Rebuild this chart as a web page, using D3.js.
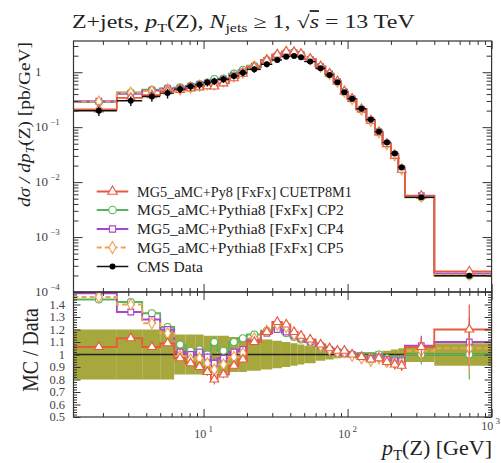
<!DOCTYPE html>
<html><head><meta charset="utf-8">
<script src="https://cdn.jsdelivr.net/npm/d3@7"></script>
<style>
body{margin:0;background:#fff}
svg{display:block}
text{font-family:"Liberation Serif","DejaVu Serif",serif}
</style>
</head><body>
<svg id="c" width="501" height="463"></svg>
<script>
// ---------------- data ----------------
const binEdges = [1.25,2.5,3.75,5,6.25,7.5,8.75,10,11.25,12.5,15,17.5,20,25,30,35,40,45,50,60,70,80,90,100,115,135,155,175,200,225,250,400,1000];
const dataValues = [0.199,0.302,0.361,0.417,0.492,0.548,0.589,0.648,0.687,0.747,0.857,0.98,1.13,1.40,1.67,1.92,1.97,1.87,1.56,1.18,0.894,0.659,0.434,0.328,0.216,0.137,0.0829,0.0524,0.0331,0.0185,0.00528,0.000198];
const dataRelErr = [0.20,0.20,0.20,0.20,0.16,0.16,0.16,0.15,0.15,0.15,0.14,0.14,0.13,0.12,0.11,0.10,0.09,0.08,0.07,0.05,0.04,0.03,0.025,0.02,0.02,0.02,0.025,0.03,0.04,0.05,0.06,0.09];
const ratioCUETP8M1 = [1.06,1.13,1.06,1.09,0.97,0.93,0.90,0.86,0.80,0.84,0.91,0.96,1.10,1.18,1.26,1.24,1.18,1.15,1.12,1.08,1.05,1.03,1.03,1.00,0.98,0.96,0.97,0.94,0.92,0.91,1.06,1.20];
const ratioCP2 = [1.44,1.42,1.33,1.22,1.08,1.03,1.04,1.00,1.10,1.03,1.10,1.13,1.16,1.19,1.21,1.17,1.14,1.12,1.10,1.07,1.04,1.02,1.02,1.00,0.99,0.98,1.00,0.97,0.96,0.96,1.00,1.00];
const ratioCP4 = [1.49,1.34,1.28,1.20,1.02,1.00,1.02,0.98,0.93,0.97,1.02,1.04,1.12,1.17,1.20,1.18,1.15,1.13,1.10,1.07,1.04,1.02,1.01,1.00,0.98,0.97,0.98,0.96,0.95,0.95,1.07,1.10];
const ratioCP5 = [1.46,1.40,1.25,1.17,0.99,0.96,0.97,0.93,0.88,0.92,0.98,1.01,1.13,1.19,1.24,1.22,1.16,1.14,1.11,1.07,1.04,1.02,1.02,0.99,0.97,0.95,0.97,0.94,0.93,0.92,1.03,1.05];
const mcRelErr = [0.02,0.02,0.02,0.02,0.02,0.02,0.02,0.03,0.04,0.03,0.02,0.02,0.02,0.02,0.02,0.02,0.02,0.02,0.02,0.02,0.02,0.02,0.02,0.02,0.02,0.03,0.03,0.03,0.04,0.04,0.08,0.20];
const seriesNames = ["MG5_aMC+Py8 [FxFx] CUETP8M1","MG5_aMC+Pythia8 [FxFx] CP2","MG5_aMC+Pythia8 [FxFx] CP4","MG5_aMC+Pythia8 [FxFx] CP5"];
const dataName = "CMS Data";
const upperTickValues = [1,0.1,0.01,0.001,0.0001];
const upperTickExp = ["","−1","−2","−3","−4"];
const ratioTickValues = [0.5,0.6,0.7,0.8,0.9,1,1.1,1.2,1.3,1.4];
const ratioTickLabels = ["0.5","0.6","0.7","0.8","0.9","1","1.1","1.2","1.3","1.4"];
const xTickValues = [10,100,1000];
const xTickExp = ["1","2","3"];

// ---------------- layout ----------------
const L=73.5, R=491.6, T=41, M=292, B=417;
const x = d3.scaleLog().domain([1.25,1000]).range([L,R]);
const yU = d3.scaleLog().domain([1e-4,3.7]).range([M,T]);
const yR = d3.scaleLinear().domain([0.5,1.5]).range([B,M]);

const svg = d3.select("#c");
const defs = svg.append("defs");
defs.append("clipPath").attr("id","cu").append("rect").attr("x",L).attr("y",T).attr("width",R-L).attr("height",M-T);
defs.append("clipPath").attr("id","cr").append("rect").attr("x",L).attr("y",M).attr("width",R-L).attr("height",B-M);

const nb = binEdges.length-1;
const bins = d3.range(nb).map(i=>({i, lo:binEdges[i], hi:binEdges[i+1], c:(binEdges[i]+binEdges[i+1])/2}));

const series = [
  {name:seriesNames[0], ratio:ratioCUETP8M1, color:"#e65b3d", sym:d3.symbolTriangle, size:34, dash:null},
  {name:seriesNames[1], ratio:ratioCP2, color:"#5cb35c", sym:d3.symbolCircle, size:38, dash:null},
  {name:seriesNames[2], ratio:ratioCP4, color:"#a847c8", sym:d3.symbolSquare, size:32, dash:null},
  {name:seriesNames[3], ratio:ratioCP5, color:"#f2a24e", sym:d3.symbolDiamond, size:36, dash:"5,3"}
];
const drawOrder = [1,2,3,0];

const stepLine = (vals, ys) => d3.line()(bins.flatMap(b=>[[x(b.lo), ys(vals[b.i])],[x(b.hi), ys(vals[b.i])]]));

// ---------------- lower panel ----------------
const gR = svg.append("g").attr("clip-path","url(#cr)");
gR.selectAll("rect.band").data(bins).join("rect").attr("class","band")
  .attr("x",b=>x(b.lo)).attr("width",b=>x(b.hi)-x(b.lo))
  .attr("y",b=>yR(1+dataRelErr[b.i])).attr("height",b=>yR(1-dataRelErr[b.i])-yR(1+dataRelErr[b.i]))
  .attr("fill","#a6a83e");
gR.append("line").attr("x1",L).attr("x2",R).attr("y1",yR(1)).attr("y2",yR(1)).attr("stroke","#222").attr("stroke-width",1.4);
drawOrder.forEach(k=>{
  const s=series[k];
  gR.append("path").attr("d",stepLine(s.ratio,yR)).attr("fill","none").attr("stroke",s.color).attr("stroke-width",1.8).attr("stroke-dasharray",s.dash);
});
drawOrder.forEach(k=>{
  const s=series[k];
  gR.selectAll(null).data(bins).join("line")
    .attr("x1",b=>x(b.c)).attr("x2",b=>x(b.c))
    .attr("y1",b=>yR(s.ratio[b.i]+mcRelErr[b.i])).attr("y2",b=>yR(s.ratio[b.i]-mcRelErr[b.i]))
    .attr("stroke",s.color).attr("stroke-width",1.2);
  gR.selectAll(null).data(bins).join("path")
    .attr("d",d3.symbol().type(s.sym).size(s.size))
    .attr("transform",b=>`translate(${x(b.c)},${yR(s.ratio[b.i])})`)
    .attr("fill","#fff").attr("stroke",s.color).attr("stroke-width",1.1);
});

// ---------------- upper panel ----------------
const gU = svg.append("g").attr("clip-path","url(#cu)");
drawOrder.forEach(k=>{
  const s=series[k];
  const vals = dataValues.map((v,i)=>v*s.ratio[i]);
  gU.append("path").attr("d",stepLine(vals,yU)).attr("fill","none").attr("stroke",s.color).attr("stroke-width",1.8).attr("stroke-dasharray",s.dash);
});
drawOrder.forEach(k=>{
  const s=series[k];
  gU.selectAll(null).data(bins).join("path")
    .attr("d",d3.symbol().type(s.sym).size(s.size))
    .attr("transform",b=>`translate(${x(b.c)},${yU(dataValues[b.i]*s.ratio[b.i])})`)
    .attr("fill","#fff").attr("stroke",s.color).attr("stroke-width",1.1);
});
gU.selectAll("line.dx").data(bins).join("line").attr("class","dx")
  .attr("x1",b=>x(b.lo)).attr("x2",b=>x(b.hi)).attr("y1",b=>yU(dataValues[b.i])).attr("y2",b=>yU(dataValues[b.i]))
  .attr("stroke","#111").attr("stroke-width",1.4);
gU.selectAll("line.dy").data(bins).join("line").attr("class","dy")
  .attr("x1",b=>x(b.c)).attr("x2",b=>x(b.c))
  .attr("y1",b=>yU(dataValues[b.i]*(1+dataRelErr[b.i]))).attr("y2",b=>yU(dataValues[b.i]*(1-dataRelErr[b.i])))
  .attr("stroke","#111").attr("stroke-width",1.4);
gU.selectAll("circle.pt").data(bins).join("circle").attr("class","pt")
  .attr("cx",b=>x(b.c)).attr("cy",b=>yU(dataValues[b.i])).attr("r",3).attr("fill","#000");

// ---------------- axes / ticks ----------------
const tickCol="#333";
const minorX=[]; [1,10,100].forEach(d=>{for(let k=2;k<=9;k++){const v=k*d; if(v>=1.25&&v<=1000) minorX.push(v);}});
function xTicks(y, dir){
  [[xTickValues,8],[minorX,4]].forEach(([vals,len])=>{
    const ax = (dir>0? d3.axisTop(x):d3.axisBottom(x)).tickValues(vals).tickSize(-len).tickFormat("");
    const g=svg.append("g").attr("transform",`translate(0,${y})`).call(ax);
    g.select(".domain").remove(); g.selectAll("line").attr("stroke",tickCol);
  });
}
xTicks(T,1); xTicks(M,-1); xTicks(M,1); xTicks(B,-1);

const minorYU=[]; [0.0001,0.001,0.01,0.1,1].forEach(d=>{for(let k=2;k<=9;k++){const v=k*d; if(v<=3.7) minorYU.push(v);}});
[[upperTickValues,9],[minorYU,5]].forEach(([vals,len])=>{
  [[d3.axisLeft(yU),L],[d3.axisRight(yU),R]].forEach(([a,xx])=>{
    const g=svg.append("g").attr("transform",`translate(${xx},0)`).call(a.tickValues(vals).tickSize(-len).tickFormat(""));
    g.select(".domain").remove(); g.selectAll("line").attr("stroke",tickCol);
  });
});
const minorYR=d3.range(0.52,1.5,0.02).filter(v=>Math.abs(v*10-Math.round(v*10))>0.01);
[[ratioTickValues,7],[minorYR,3.5]].forEach(([vals,len])=>{
  [[d3.axisLeft(yR),L],[d3.axisRight(yR),R]].forEach(([a,xx])=>{
    const g=svg.append("g").attr("transform",`translate(${xx},0)`).call(a.tickValues(vals).tickSize(-len).tickFormat(""));
    g.select(".domain").remove(); g.selectAll("line").attr("stroke",tickCol);
  });
});

// frames
svg.append("rect").attr("x",L).attr("y",T).attr("width",R-L).attr("height",M-T).attr("fill","none").attr("stroke","#333").attr("stroke-width",1.2);
svg.append("rect").attr("x",L).attr("y",M).attr("width",R-L).attr("height",B-M).attr("fill","none").attr("stroke","#333").attr("stroke-width",1.2);

// tick labels
const labCol="#444";
upperTickValues.forEach((v,i)=>{
  const t=svg.append("text").attr("x",35).attr("y",yU(v)+4).attr("font-size",13).attr("fill",labCol);
  if(upperTickExp[i]===""){ t.text("1"); }
  else { t.append("tspan").text("10"); t.append("tspan").attr("dy",-6).attr("font-size",9).text(" "+upperTickExp[i]); }
});
ratioTickValues.forEach((v,i)=>{
  svg.append("text").attr("x",65).attr("y",yR(v)+4).attr("text-anchor","end").attr("font-size",12.5).attr("fill",labCol).text(ratioTickLabels[i]);
});
xTickValues.forEach((v,i)=>{
  const last = i===xTickValues.length-1;
  const t=svg.append("text").attr("x",last?500:x(v)).attr("y",last?430:438).attr("text-anchor",last?"end":"middle").attr("font-size",12).attr("fill",labCol);
  t.append("tspan").text("10"); t.append("tspan").attr("dy",-6).attr("font-size",9).text(" "+xTickExp[i]);
});

function fitText(g, t, target){ const w=t.node().getBBox().width; t.attr("transform",`scale(${target/w},1)`); }

// title
{
  const g=svg.append("g").attr("transform","translate(72,28)");
  const t=g.append("text").attr("font-size",18).attr("fill","#222");
  t.append("tspan").text("Z+jets, ");
  t.append("tspan").attr("font-style","italic").text("p");
  t.append("tspan").attr("font-size",12).attr("dy",4).text("T");
  t.append("tspan").attr("dy",-4).text("(Z), ");
  t.append("tspan").attr("font-style","italic").text("N");
  t.append("tspan").attr("font-size",12).attr("dy",4).text("jets");
  t.append("tspan").attr("dy",-4).text(" ≥ 1, √");
  t.append("tspan").attr("font-style","italic").attr("text-decoration","overline").text("s");
  t.append("tspan").text(" = 13 TeV");
  fitText(g,t,343);
}
// y label upper
{
  const g=svg.append("g").attr("transform","translate(30,124.5) rotate(-90)");
  const t=g.append("text").attr("text-anchor","middle").attr("font-size",17).attr("fill","#222");
  t.append("tspan").attr("font-style","italic").text("dσ / dp");
  t.append("tspan").attr("font-size",12).attr("dy",4).attr("font-style","italic").text("T");
  t.append("tspan").attr("dy",-4).text("(Z) [pb/GeV]");
  fitText(g,t,165);
}
// y label lower
{
  const g=svg.append("g").attr("transform","translate(38,350) rotate(-90)");
  const t=g.append("text").attr("text-anchor","middle").attr("font-size",24).attr("fill","#222").text("MC / Data");
  fitText(g,t,84);
}
// x label
{
  const g=svg.append("g").attr("transform","translate(492,455)");
  const t=g.append("text").attr("text-anchor","end").attr("font-size",21).attr("fill","#222");
  t.append("tspan").attr("font-style","italic").text("p");
  t.append("tspan").attr("font-size",14).attr("dy",5).text("T");
  t.append("tspan").attr("dy",-5).text("(Z)  [GeV]");
  fitText(g,t,112);
}

// legend
const legY=[191.5,210,229,247.5,266.5];
const legW=[215,207,207,207,66];
series.forEach((s,i)=>{
  const y=legY[i];
  svg.append("line").attr("x1",96.7).attr("x2",128.3).attr("y1",y).attr("y2",y).attr("stroke",s.color).attr("stroke-width",1.8).attr("stroke-dasharray",s.dash);
  svg.append("path").attr("d",d3.symbol().type(s.sym).size(s.size+6)).attr("transform",`translate(112.5,${y})`).attr("fill","#fff").attr("stroke",s.color).attr("stroke-width",1.1);
  const g=svg.append("g").attr("transform",`translate(137,${y+5})`);
  const t=g.append("text").attr("font-size",i===0?14:15.5).attr("fill","#222").text(s.name);
  fitText(g,t,legW[i]);
});
{
  const y=legY[4];
  svg.append("line").attr("x1",96.7).attr("x2",128.3).attr("y1",y).attr("y2",y).attr("stroke","#111").attr("stroke-width",1.4);
  svg.append("circle").attr("cx",112.5).attr("cy",y).attr("r",3).attr("fill","#000");
  const g=svg.append("g").attr("transform",`translate(137,${y+5})`);
  const t=g.append("text").attr("font-size",15.5).attr("fill","#222").text(dataName);
  fitText(g,t,legW[4]);
}
</script>
</body></html>
